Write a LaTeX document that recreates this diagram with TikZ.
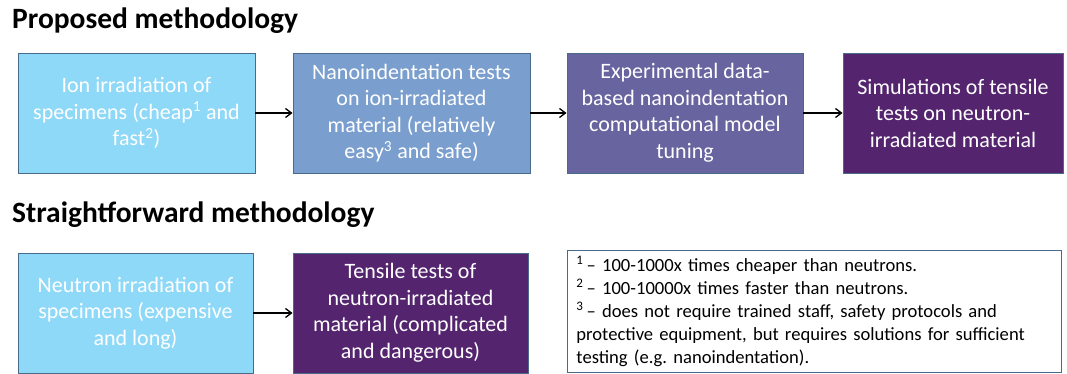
\documentclass[tikz,border=0pt]{standalone}
\usepackage{fontspec}
\setmainfont{Carlito}
\usetikzlibrary{arrows.meta}
\definecolor{cLight}{HTML}{8ED8F8}
\definecolor{cBlue}{HTML}{7A9ECE}
\definecolor{cViolet}{HTML}{6864A0}
\definecolor{cPurple}{HTML}{54256E}
\definecolor{cEdge}{HTML}{4A6A8C}
\tikzset{
  stepbox/.style={draw=cEdge, line width=0.9pt, align=center, text=white,
    inner sep=0pt, font=\fontsize{22}{26.5}\selectfont},
  heading/.style={anchor=base west, inner sep=0pt, font=\fontsize{29.5}{32}\selectfont\bfseries},
  flow/.style={-{Straight Barb[length=6pt,width=9pt]}, line width=1.3pt},
}
\begin{document}
\frenchspacing
\begin{tikzpicture}[x=1pt,y=-1pt]
\useasboundingbox (0,0) rectangle (1067,374);

% headings
\node[heading] (h1) at (12,29) {Proposed methodology};
\node[heading] (h2) at (12,222) {Straightforward methodology};

% proposed chain
\node[stepbox, fill=cLight, minimum width=237pt, minimum height=120pt] (a1) at (136.5,113)
  {Ion irradiation of\\specimens (cheap\textsuperscript{1} and\\fast\textsuperscript{2})};
\node[stepbox, fill=cBlue, minimum width=237pt, minimum height=120pt] (a2) at (411.5,113)
  {Nanoindentation tests\\on ion-irradiated\\material (relatively\\easy\textsuperscript{3} and safe)};
\node[stepbox, fill=cViolet, minimum width=236pt, minimum height=120pt] (a3) at (685,113)
  {Experimental data-\\based nanoindentation\\computational model\\tuning};
\node[stepbox, fill=cPurple, minimum width=220pt, minimum height=120pt] (a4) at (953,113)
  {Simulations of tensile\\tests on neutron-\\irradiated material};

\draw[flow] (a1) -- (a2);
\draw[flow] (a2) -- (a3);
\draw[flow] (a3) -- (a4);

% straightforward chain
\node[stepbox, fill=cLight, minimum width=235pt, minimum height=120pt] (b1) at (135.5,313)
  {Neutron irradiation of\\specimens (expensive\\and long)};
\node[stepbox, fill=cPurple, minimum width=235pt, minimum height=120pt] (b2) at (410.5,313)
  {Tensile tests of\\neutron-irradiated\\material (complicated\\and dangerous)};
\draw[flow] (b1) -- (b2);

% footnotes
\node[draw=cEdge, line width=0.9pt, anchor=north west, minimum width=494pt, minimum height=122pt,
  inner xsep=9pt, inner ysep=4pt, align=left, text width=476pt,
  font=\fontsize{18.6}{23}\selectfont] (notes) at (567,250)
  {\textsuperscript{1}\,-- 100-1000x times cheaper than neutrons.\\
   \textsuperscript{2}\,-- 100-10000x times faster than neutrons.\\
   \textsuperscript{3}\,-- does not require trained staff, safety protocols and\\
   protective equipment, but requires solutions for sufficient\\
   testing (e.g. nanoindentation).};
\end{tikzpicture}
\end{document}
